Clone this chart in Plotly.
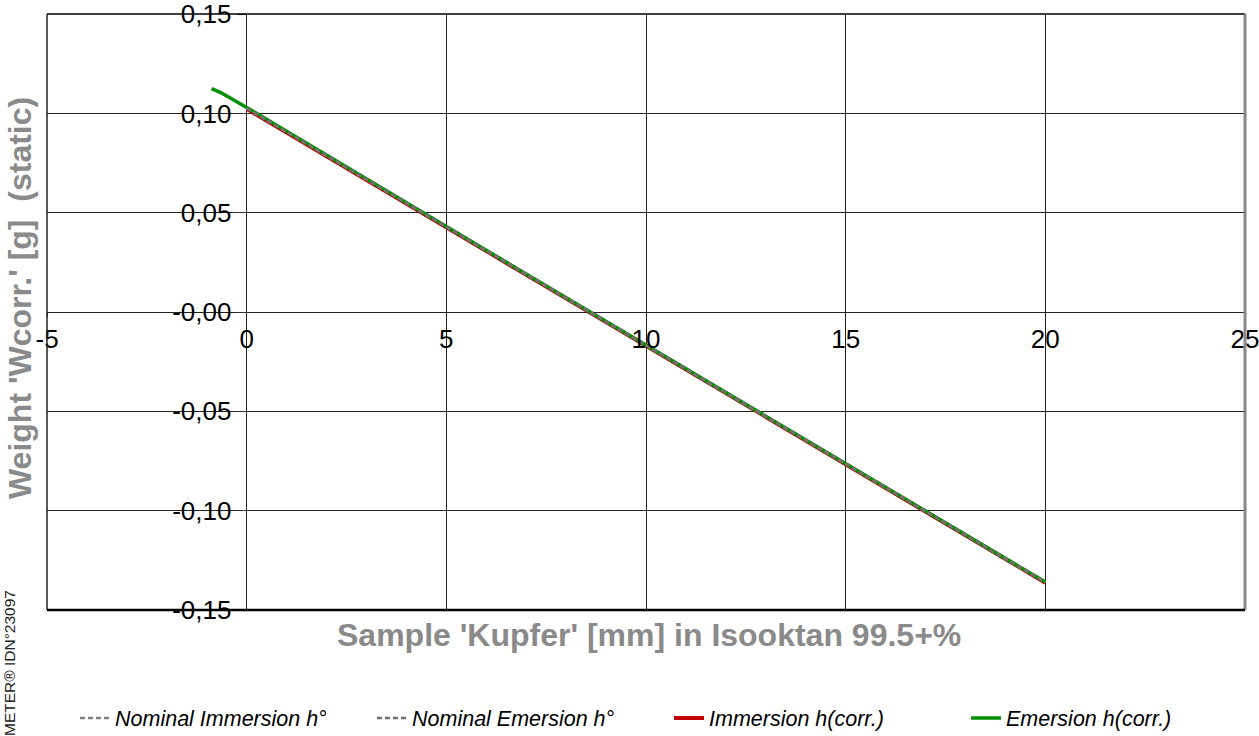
import plotly.graph_objects as go

# ---- data ----
x_nominal = [0, 5, 10, 15, 20]
y_nominal_imm = [0.1025, 0.0428, -0.0168, -0.0766, -0.1362]
y_nominal_em = [0.1027, 0.0430, -0.0167, -0.0765, -0.1361]

x_imm_corr = [0, 5, 10, 15, 20]
y_imm_corr = [0.1023, 0.0427, -0.0170, -0.0768, -0.1363]

x_em_corr = [-0.88, -0.65, -0.4, 0, 5, 10, 15, 20]
y_em_corr = [0.1125, 0.1105, 0.1076, 0.1030, 0.0430, -0.0167, -0.0765, -0.1360]

x_ticks = [-5, 0, 5, 10, 15, 20, 25]
y_ticks = [-0.15, -0.10, -0.05, 0.0, 0.05, 0.10, 0.15]
y_ticktext = ["-0,15", "-0,10", "-0,05", "-0,00", "0,05", "0,10", "0,15"]

x_title = "Sample 'Kupfer' [mm] in Isooktan 99.5+%"
y_title = "Weight 'Wcorr.' [g]  (static)"
watermark = "METER® IDN°23097"

names = ["Nominal Immersion h°", "Nominal Emersion h°", "Immersion h(corr.)", "Emersion h(corr.)"]

W, H = 1259, 736
L, R, T, B = 47, 14, 14, 126
pw, ph = W - L - R, H - T - B

fig = go.Figure()
fig.add_trace(go.Scatter(x=x_imm_corr, y=y_imm_corr, mode="lines", name=names[2],
                         line=dict(color="#c00000", width=4), legendrank=3))
fig.add_trace(go.Scatter(x=x_em_corr, y=y_em_corr, mode="lines", name=names[3],
                         line=dict(color="#009000", width=3.5), legendrank=4))
fig.add_trace(go.Scatter(x=x_nominal, y=y_nominal_imm, mode="lines", name=names[0],
                         line=dict(color="#808080", width=2.5, dash="5px,3px"), legendrank=1))
fig.add_trace(go.Scatter(x=x_nominal, y=y_nominal_em, mode="lines", name=names[1],
                         line=dict(color="#707070", width=2.5, dash="5px,3px"), legendrank=2))

tick_font = dict(family="Liberation Sans, Arial, sans-serif", size=26, color="black")
title_font = dict(family="Liberation Sans, Arial, sans-serif", size=32, color="#8a8a8a", weight="bold")

fig.update_layout(
    width=W, height=H,
    margin=dict(l=L, r=R, t=T, b=B, pad=0, autoexpand=False),
    paper_bgcolor="white", plot_bgcolor="white",
    xaxis=dict(range=[-5.001, 25.001], tickvals=x_ticks, ticktext=[str(v) for v in x_ticks],
               showgrid=True, gridcolor="#222", gridwidth=1, zeroline=False,
               anchor="free", position=0.5, side="bottom",
               ticks="outside", ticklen=4, tickcolor="#222", showline=False,
               tickfont=tick_font, ticklabeloverflow="allow", automargin=False, fixedrange=True),
    yaxis=dict(range=[-0.15005, 0.15005], tickvals=y_ticks, ticktext=y_ticktext,
               showgrid=True, gridcolor="#222", gridwidth=1, zeroline=False,
               anchor="free", position=5 / 30, side="left",
               ticks="outside", ticklen=10, tickcolor="#333", showline=False,
               tickfont=tick_font, ticklabeloverflow="allow", automargin=False, fixedrange=True),
    showlegend=True,
    legend=dict(orientation="h", xref="container", yref="container",
                x=75 / W, xanchor="left", y=(H - 718) / H, yanchor="middle",
                font=dict(family="Liberation Sans, Arial, sans-serif",
                          size=21.5, color="black", style="italic"),
                entrywidth=252, entrywidthmode="pixels", itemwidth=30,
                bgcolor="rgba(0,0,0,0)", traceorder="normal"),
    shapes=[
        dict(type="line", xref="paper", yref="paper", x0=0, x1=1, y0=1, y1=1,
             line=dict(color="black", width=1.5)),
        dict(type="line", xref="paper", yref="paper", x0=0, x1=0, y0=0, y1=1,
             line=dict(color="#222", width=1.5)),
        dict(type="line", xref="paper", yref="paper", x0=1, x1=1, y0=0, y1=1,
             line=dict(color="#888", width=3)),
        dict(type="line", xref="paper", yref="paper", x0=0, x1=1, y0=0, y1=0,
             line=dict(color="black", width=2.5)),
    ],
    annotations=[
        dict(text=x_title, xref="paper", yref="paper", x=(649 - L) / pw, y=-25 / ph,
             xanchor="center", yanchor="middle", showarrow=False, font=title_font),
        dict(text=y_title, xref="paper", yref="paper", x=(20 - L) / pw, y=(T + ph - 298) / ph,
             xanchor="center", yanchor="middle", showarrow=False, textangle=-90, font=title_font),
        dict(text=watermark, xref="paper", yref="paper", x=(9 - L) / pw, y=(T + ph - 588) / ph,
             xanchor="center", yanchor="top", showarrow=False, textangle=-90,
             font=dict(family="Liberation Sans, Arial, sans-serif", size=15.5, color="#222")),
    ],
)

fig.write_html("out.html", config={"displayModeBar": False},
               post_script="document.body.style.margin='0';document.body.style.overflow='hidden';")
